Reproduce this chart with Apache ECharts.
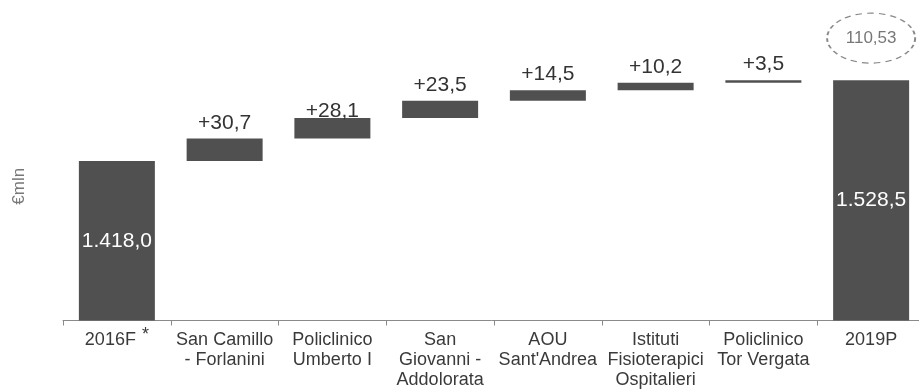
<!DOCTYPE html>
<html>
<head>
<meta charset="utf-8">
<script src="https://cdn.jsdelivr.net/npm/echarts@6/dist/echarts.min.js"></script>
<style>
html,body{margin:0;padding:0;background:#fff;}
#c{width:919px;height:390px;}
</style>
</head>
<body>
<div id="c"></div>
<script>
// ---- data ----
var categories = ["2016F", "San Camillo\n- Forlanini", "Policlinico\nUmberto I", "San\nGiovanni -\nAddolorata",
  "AOU\nSant'Andrea", "Istituti\nFisioterapici\nOspitalieri", "Policlinico\nTor Vergata", "2019P"];
var startTotal = 1418.0;
var increments = [30.7, 28.1, 23.5, 14.5, 10.2, 3.5];
var endTotal = 1528.5;
var deltaNote = "110,53";
var yAxisName = "€mln";

function fmt(v, plus) {
  var parts = v.toFixed(1).split('.');
  var intPart = parts[0].replace(/\B(?=(\d{3})+(?!\d))/g, '.');
  return (plus ? '+' : '') + intPart + ',' + parts[1];
}

// build waterfall arrays
var base = [0];
var vis = [{value: startTotal, label: {position: 'inside', color: '#fff', formatter: fmt(startTotal)}}];
var run = startTotal;
increments.forEach(function (d, i) {
  var item = {value: d, label: {position: 'top', formatter: fmt(d, true)}};
  if (i === 1) item.label.distance = -4;
  base.push(run);
  vis.push(item);
  run += d;
});
base.push(0);
vis.push({value: endTotal, label: {position: 'inside', color: '#fff', formatter: fmt(endTotal)}});
var noteData = categories.map(function (c, i) { return i === categories.length - 1 ? endTotal : null; });

var chart = echarts.init(document.getElementById('c'), null, {renderer: 'canvas'});
chart.setOption({
  animation: false,
  grid: {left: 63, right: -6, top: 0, bottom: 69.5, containLabel: false, outerBoundsMode: 'none'},
  xAxis: {
    type: 'category',
    data: categories,
    axisLine: {lineStyle: {color: '#8a8a8a', width: 1}},
    axisTick: {show: true, length: 5, alignWithLabel: false, lineStyle: {color: '#8a8a8a'}},
    axisLabel: {
      interval: 0, margin: 10, color: '#3a3a3a', fontFamily: 'Liberation Sans', fontSize: 18, lineHeight: 20,
      formatter: function (v, i) { return i === 0 ? v + '{s|*}' : v; },
      rich: {s: {fontFamily: 'Liberation Sans', fontSize: 18, color: '#3a3a3a', padding: [0, 0, 10, 6]}}
    }
  },
  yAxis: {
    type: 'value', min: 1200, max: 1638,
    axisLine: {show: false}, axisTick: {show: false}, axisLabel: {show: false}, splitLine: {show: false},
    name: yAxisName, nameLocation: 'middle', nameGap: 35,
    nameTextStyle: {fontFamily: 'Liberation Sans', fontSize: 17, color: '#777', padding: [0, 52, 0, 0]}
  },
  series: [
    {type: 'bar', stack: 'w', data: base, barWidth: 76, itemStyle: {color: 'rgba(0,0,0,0)'}, silent: true},
    {type: 'bar', stack: 'w', data: vis, barWidth: 76,
      itemStyle: {color: '#505050'},
      label: {show: true, fontFamily: 'Liberation Sans', fontSize: 21, color: '#333', distance: 5}},
    {type: 'scatter', data: noteData, symbol: 'circle', symbolSize: [88, 50], symbolOffset: [0, -42],
      itemStyle: {color: 'rgba(0,0,0,0)', borderColor: '#6a6a6a', borderWidth: 1.5, borderType: [5, 4]},
      label: {show: true, position: 'inside', formatter: deltaNote, fontFamily: 'Liberation Sans', fontSize: 17, color: '#555'}}
  ]
});
</script>
</body>
</html>
